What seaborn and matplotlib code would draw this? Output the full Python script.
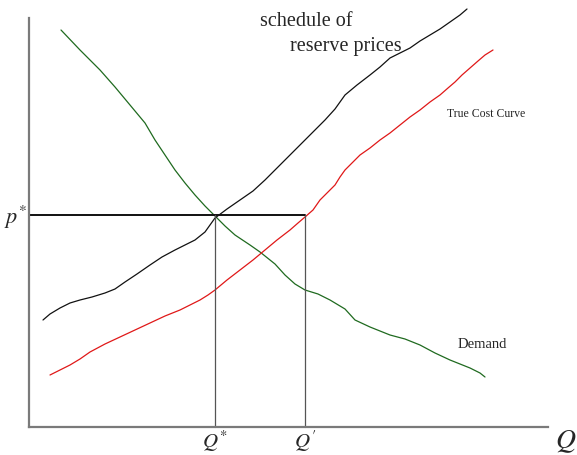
import matplotlib
matplotlib.use("Agg")
import matplotlib.pyplot as plt
import seaborn as sns
import pandas as pd

# Demand curve (quantity, price)
demand_q = [32, 51, 71, 86, 101, 116, 126, 136, 146, 156, 166, 176, 186, 196, 206, 221, 231, 246, 256, 266, 276, 289, 301, 316, 326, 341, 361, 376, 391, 406, 421, 431, 441, 451, 456]
demand_p = [397, 377, 357, 340, 322, 304, 287, 272, 257, 244, 232, 221, 211, 201, 192, 182, 175, 163, 152, 143, 137, 133, 127, 118, 107, 100, 92, 88, 82, 74, 67, 63, 59, 54, 50]

# Schedule of reserve prices
reserve_q = [14, 21, 31, 41, 51, 63, 76, 86, 96, 108, 121, 133, 146, 156, 166, 176, 186, 198, 211, 224, 236, 246, 256, 266, 276, 286, 296, 306, 316, 328, 341, 351, 361, 371, 381, 391, 401, 411, 421, 431, 438]
reserve_p = [107, 113, 119, 124, 127, 130, 134, 138, 145, 153, 162, 170, 177, 182, 187, 195, 209, 218, 227, 236, 247, 257, 267, 277, 287, 297, 307, 318, 332, 342, 352, 360, 369, 374, 379, 386, 392, 398, 405, 412, 418]

# True cost curve
cost_q = [21, 31, 41, 51, 61, 76, 91, 106, 121, 136, 151, 161, 171, 179, 186, 198, 211, 224, 236, 248, 261, 269, 276, 284, 291, 299, 306, 311, 316, 324, 331, 341, 351, 361, 371, 381, 391, 401, 411, 419, 426, 433, 441, 449, 456, 464]
cost_p = [52, 57, 62, 68, 75, 83, 90, 97, 104, 111, 117, 122, 127, 132, 137, 147, 157, 167, 177, 187, 197, 204, 210, 217, 227, 235, 242, 250, 257, 265, 272, 279, 287, 294, 302, 310, 317, 325, 332, 339, 345, 352, 359, 366, 372, 377]

p_star = 212
q_star = 186
q_prime = 276

sns.set_theme(style="white")
plt.rcParams["font.family"] = ["Liberation Serif", "DejaVu Serif"]
plt.rcParams["mathtext.fontset"] = "stix"

fig = plt.figure(figsize=(5.77, 4.55), dpi=100)
ax = fig.add_axes([0, 0, 1, 1])
ax.set_xlim(-29, 548)
ax.set_ylim(-28, 427)

df_d = pd.DataFrame({"Q": demand_q, "P": demand_p})
df_r = pd.DataFrame({"Q": reserve_q, "P": reserve_p})
df_c = pd.DataFrame({"Q": cost_q, "P": cost_p})

sns.lineplot(data=df_d, x="Q", y="P", ax=ax, color="#1f6a1f", lw=0.9, sort=False)
sns.lineplot(data=df_r, x="Q", y="P", ax=ax, color="#111111", lw=0.9, sort=False)
sns.lineplot(data=df_c, x="Q", y="P", ax=ax, color="#e01818", lw=0.9, sort=False)

# Equilibrium guides
ax.plot([0, q_prime], [p_star, p_star], color="#111111", lw=1.4)
ax.plot([q_star, q_star], [0, p_star], color="#555555", lw=0.9)
ax.plot([q_prime, q_prime], [0, p_star], color="#555555", lw=0.9)

# Axes drawn as spines through the origin
for side in ["top", "right"]:
    ax.spines[side].set_visible(False)
ax.spines["left"].set_position(("data", 0))
ax.spines["bottom"].set_position(("data", 0))
ax.spines["left"].set_bounds(0, 409)
ax.spines["bottom"].set_bounds(0, 519)
for side in ["left", "bottom"]:
    ax.spines[side].set_color("#7a7a7a")
    ax.spines[side].set_linewidth(1.6)
ax.set_xticks([])
ax.set_yticks([])
ax.set_xlabel("")
ax.set_ylabel("")
ax.patch.set_alpha(0)

# Labels
ax.text(-2, p_star - 2, r"$p^{*}$", fontsize=16, ha="right", va="center")
ax.text(q_star, -14, r"$Q^{*}$", fontsize=15, ha="center", va="center")
ax.text(q_prime, -14, r"$Q^{\prime}$", fontsize=15, ha="center", va="center")
ax.text(537, -15, r"$Q$", fontsize=20, ha="center", va="center")

ax.text(231, 405, "schedule of", fontsize=14.5, ha="left", va="center")
ax.text(261, 381, "reserve prices", fontsize=14.5, ha="left", va="center")
ax.text(418, 313, "True Cost Curve", fontsize=8.5, ha="left", va="center")
ax.text(429, 82, "Demand", fontsize=10.5, ha="left", va="center")

fig.savefig("out.png", dpi=100)
